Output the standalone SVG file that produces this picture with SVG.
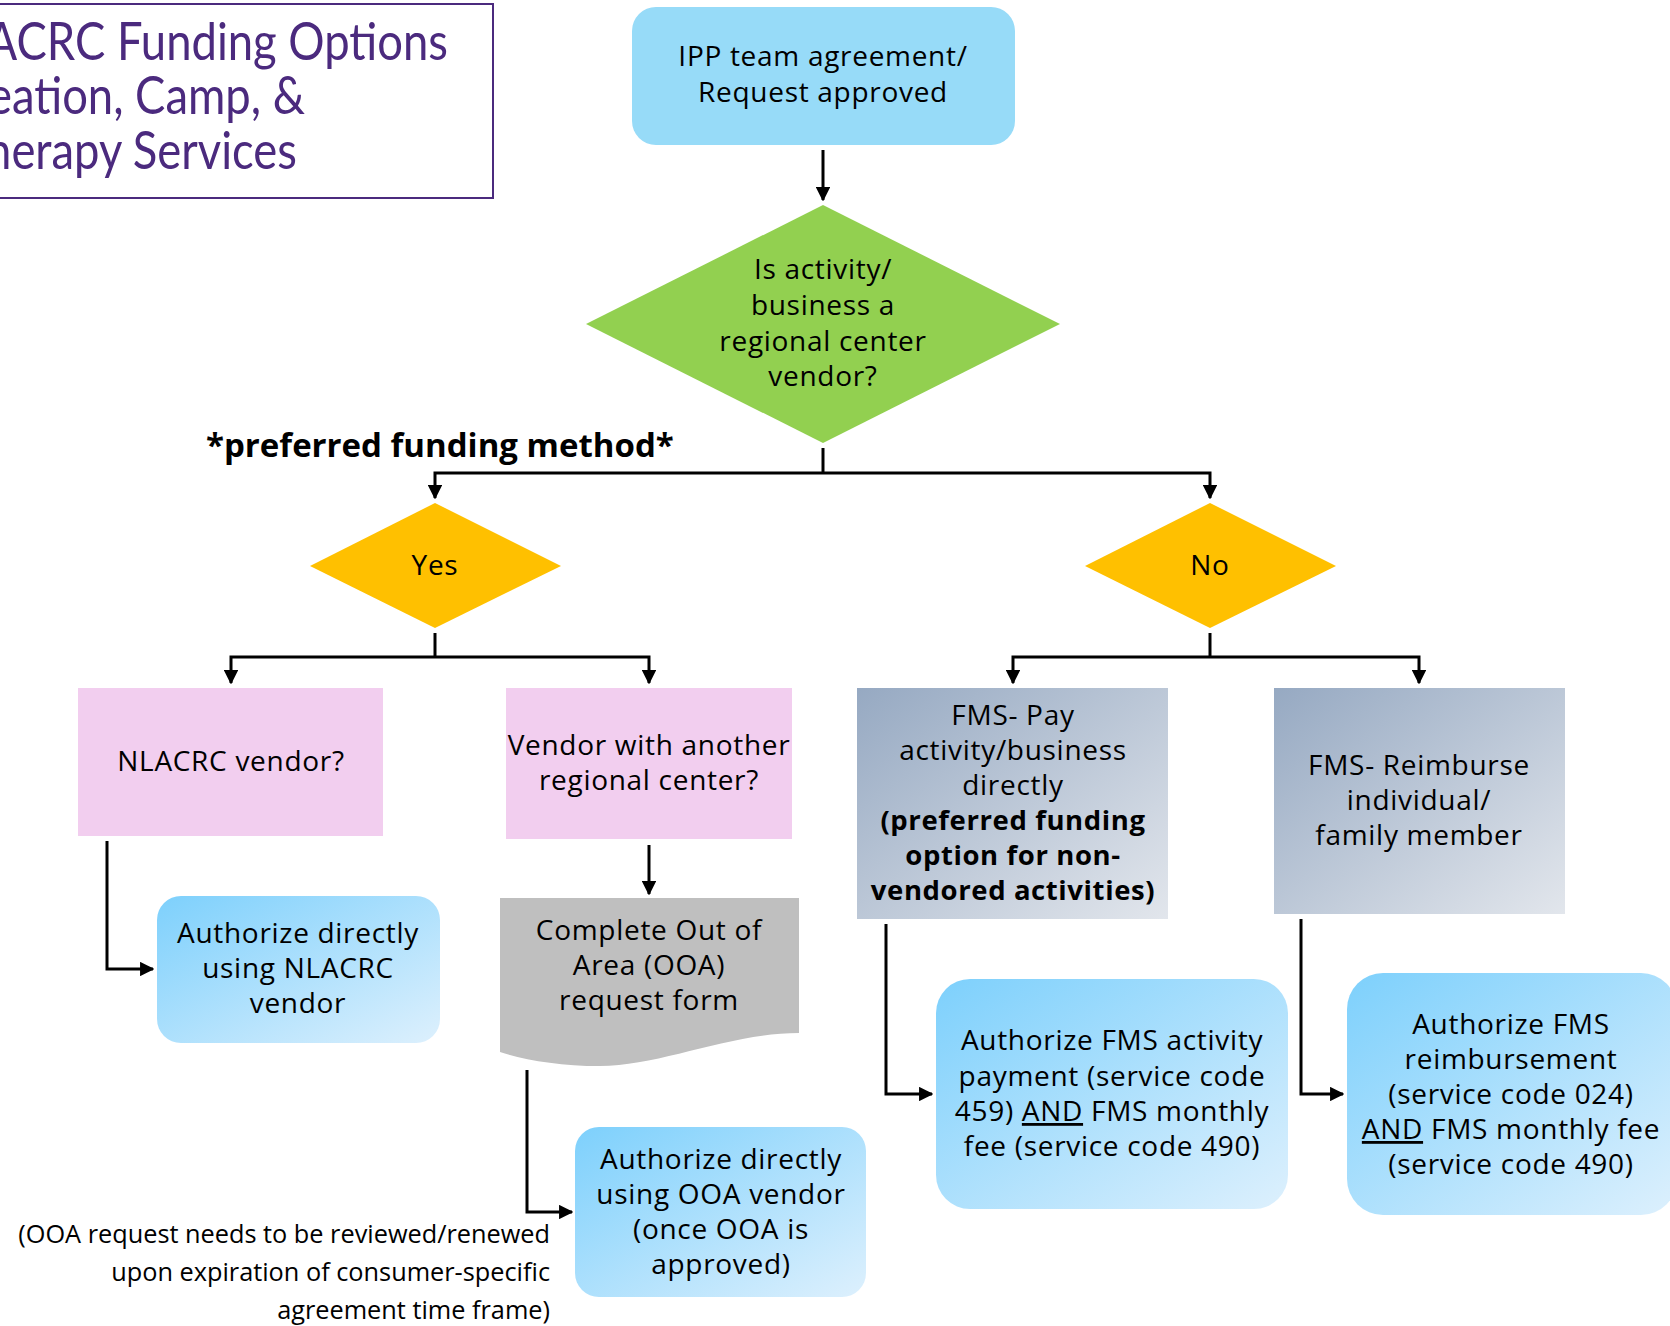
<svg xmlns="http://www.w3.org/2000/svg" width="1670" height="1326" viewBox="0 0 1670 1326">
<defs>
<marker id="ah" viewBox="0 0 10 10" refX="9" refY="5" markerWidth="4.8" markerHeight="4.8" orient="auto" markerUnits="strokeWidth">
<path d="M0,0 L10,5 L0,10 Z" fill="#000"/>
</marker>
<linearGradient id="gBlue" x1="0" y1="0" x2="1" y2="1">
<stop offset="0" stop-color="#7DD0FC"/>
<stop offset="1" stop-color="#DDF0FD"/>
</linearGradient>
<linearGradient id="gGray" x1="0" y1="0" x2="1" y2="1">
<stop offset="0" stop-color="#96A9C2"/>
<stop offset="1" stop-color="#E2E6EC"/>
</linearGradient>
</defs>
<style>
.t{font-family:"Open Sans","Liberation Sans",sans-serif;font-size:28px;letter-spacing:0.7px;fill:#000;text-anchor:middle}
.b{font-weight:bold;font-size:27.5px;letter-spacing:0.6px}
.title{font-family:Lato,"Open Sans",sans-serif;font-size:51px;fill:#4B2A7E;text-anchor:end}
.note{font-family:"Open Sans","Liberation Sans",sans-serif;font-size:25.3px;fill:#000;text-anchor:end}
.c{fill:none;stroke:#000;stroke-width:3}
.a{marker-end:url(#ah)}
.pink{fill:#F2CEEF}
</style>
<rect width="1670" height="1326" fill="#fff"/>

<g id="title">
<rect x="-10" y="4" width="503" height="194" fill="none" stroke="#4B2A7E" stroke-width="2"/>
<text class="title" transform="scale(0.89,1.04)"><tspan x="503.4" y="57.7">NLACRC Funding Options</tspan><tspan x="342.7" y="109.6">for Recreation, Camp, &amp;</tspan><tspan x="333.7" y="162.5">Therapy Services</tspan></text>
</g>

<g id="connectors">
<line class="c a" x1="823" y1="150" x2="823" y2="200"/>
<line class="c" x1="823" y1="448" x2="823" y2="473"/>
<polyline class="c a" points="823,473 435,473 435,498"/>
<polyline class="c a" points="823,473 1210,473 1210,498"/>
<line class="c" x1="435" y1="633" x2="435" y2="657"/>
<polyline class="c a" points="435,657 231,657 231,683"/>
<polyline class="c a" points="435,657 649,657 649,683"/>
<line class="c" x1="1210" y1="633" x2="1210" y2="657"/>
<polyline class="c a" points="1210,657 1013,657 1013,683"/>
<polyline class="c a" points="1210,657 1419,657 1419,683"/>
<polyline class="c a" points="107,841 107,969 153,969"/>
<line class="c a" x1="649" y1="845" x2="649" y2="894"/>
<polyline class="c a" points="527,1070 527,1212 572,1212"/>
<polyline class="c a" points="886,924 886,1094 932,1094"/>
<polyline class="c a" points="1301,919 1301,1094 1343,1094"/>
</g>

<g id="n-ipp">
<rect x="632" y="7" width="383" height="138" rx="24" fill="#97DBF8"/>
<text class="t" x="823" y="66">IPP team agreement/</text>
<text class="t" x="823" y="102">Request approved</text>
</g>

<g id="n-vendor-q">
<polygon points="823,205 1060,324 823,443 586,324" fill="#92D050"/>
<text class="t" x="823" y="279">Is activity/</text>
<text class="t" x="823" y="315">business a</text>
<text class="t" x="823" y="351">regional center</text>
<text class="t" x="823" y="386">vendor?</text>
</g>

<g id="lbl-preferred">
<text class="t" x="206" y="457" style="text-anchor:start;font-weight:bold;font-size:33px;letter-spacing:0">*preferred funding method*</text>
</g>

<g id="n-yes">
<polygon points="435,503 561,566 435,628 310,566" fill="#FFC000"/>
<text class="t" x="435" y="575">Yes</text>
</g>

<g id="n-no">
<polygon points="1210,503 1336,566 1210,628 1085,566" fill="#FFC000"/>
<text class="t" x="1210" y="575">No</text>
</g>

<g id="n-nlacrc">
<rect class="pink" x="78" y="688" width="305" height="148"/>
<text class="t" x="231" y="771">NLACRC vendor?</text>
</g>

<g id="n-other-rc">
<rect class="pink" x="506" y="688" width="286" height="151"/>
<text class="t" x="649" y="755">Vendor with another</text>
<text class="t" x="649" y="790">regional center?</text>
</g>

<g id="n-fms-pay">
<rect x="857" y="688" width="311" height="231" fill="url(#gGray)"/>
<text class="t" x="1013" y="725">FMS- Pay</text>
<text class="t" x="1013" y="760">activity/business</text>
<text class="t" x="1013" y="795">directly</text>
<text class="t b" x="1013" y="830">(preferred funding</text>
<text class="t b" x="1013" y="865">option for non-</text>
<text class="t b" x="1013" y="900">vendored activities)</text>
</g>

<g id="n-fms-reimb">
<rect x="1274" y="688" width="291" height="226" fill="url(#gGray)"/>
<text class="t" x="1419" y="775">FMS- Reimburse</text>
<text class="t" x="1419" y="810">individual/</text>
<text class="t" x="1419" y="845">family member</text>
</g>

<g id="n-auth-nlacrc">
<rect x="157" y="896" width="283" height="147" rx="24" fill="url(#gBlue)"/>
<text class="t" x="298" y="943">Authorize directly</text>
<text class="t" x="298" y="978">using NLACRC</text>
<text class="t" x="298" y="1013">vendor</text>
</g>

<g id="n-ooa-form">
<path d="M500,898 H799 V1033 C730,1033 660,1066 600,1066 C560,1066 525,1060 500,1052 Z" fill="#BFBFBF"/>
<text class="t" x="649" y="940">Complete Out of</text>
<text class="t" x="649" y="975">Area (OOA)</text>
<text class="t" x="649" y="1010">request form</text>
</g>

<g id="n-auth-ooa">
<rect x="575" y="1127" width="291" height="170" rx="24" fill="url(#gBlue)"/>
<text class="t" x="721" y="1169">Authorize directly</text>
<text class="t" x="721" y="1204">using OOA vendor</text>
<text class="t" x="721" y="1239">(once OOA is</text>
<text class="t" x="721" y="1274">approved)</text>
</g>

<g id="note-ooa">
<text class="note" x="550" y="1243">(OOA request needs to be reviewed/renewed</text>
<text class="note" x="550" y="1281">upon expiration of consumer-specific</text>
<text class="note" x="550" y="1319">agreement time frame)</text>
</g>

<g id="n-auth-fms-pay">
<rect x="936" y="979" width="352" height="230" rx="34" fill="url(#gBlue)"/>
<text class="t" x="1112" y="1050">Authorize FMS activity</text>
<text class="t" x="1112" y="1086">payment (service code</text>
<text class="t" x="1112" y="1121">459) <tspan text-decoration="underline">AND</tspan> FMS monthly</text>
<text class="t" x="1112" y="1156">fee (service code 490)</text>
</g>

<g id="n-auth-fms-reimb">
<rect x="1347" y="973" width="330" height="242" rx="36" fill="url(#gBlue)"/>
<text class="t" x="1511" y="1034">Authorize FMS</text>
<text class="t" x="1511" y="1069">reimbursement</text>
<text class="t" x="1511" y="1104">(service code 024)</text>
<text class="t" x="1511" y="1139"><tspan text-decoration="underline">AND</tspan> FMS monthly fee</text>
<text class="t" x="1511" y="1174">(service code 490)</text>
</g>
</svg>
